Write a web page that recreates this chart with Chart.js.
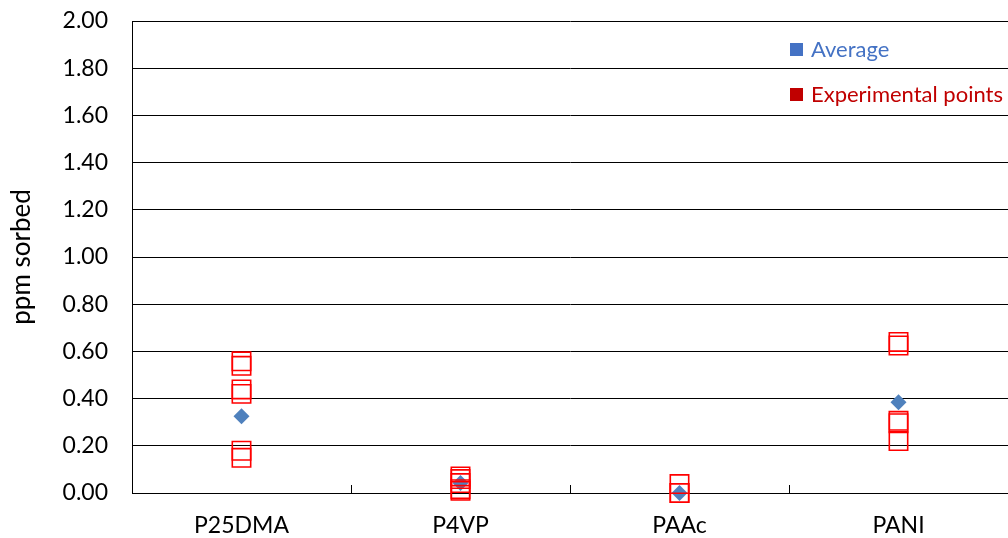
<!DOCTYPE html>
<html>
<head>
<meta charset="utf-8">
<script src="https://cdn.jsdelivr.net/npm/chart.js@4/dist/chart.umd.min.js"></script>
<style>
  html, body { margin: 0; padding: 0; background: #fff; }
  #wrap { width: 1008px; height: 538px; position: relative; }
</style>
</head>
<body>
<div id="wrap"><canvas id="c"></canvas></div>
<script>
// Sorbents on the category axis
const categories = ['P25DMA', 'P4VP', 'PAAc', 'PANI'];

// Mean sorbed amount per sorbent (ppm)
const averageValues = [0.325, 0.042, 0.0, 0.385];

// Individual replicate measurements per sorbent (ppm)
const p25dmaPoints = [0.558, 0.539, 0.439, 0.420, 0.179, 0.149];
const p4vpPoints = [0.070, 0.059, 0.042, 0.016, 0.009];
const paacPoints = [0.038, 0.0, 0.0];
const paniPoints = [0.640, 0.625, 0.306, 0.296, 0.220];

// Value axis ticks
const yTicks = [0, 0.2, 0.4, 0.6, 0.8, 1.0, 1.2, 1.4, 1.6, 1.8, 2.0];

const seriesNames = ['Average', 'Experimental points'];
const legendColors = ['#4472C4', '#C00000'];

const pointGroups = [p25dmaPoints, p4vpPoints, paacPoints, paniPoints];
const experimentalData = [];
pointGroups.forEach((group, i) => {
  group.forEach(v => experimentalData.push({ x: categories[i], y: v }));
});

const FONT = 'Lato, "Liberation Sans", sans-serif';

// Legend drawn inside the plot area, top right
const innerLegend = {
  id: 'innerLegend',
  afterDraw(chart) {
    const ctx = chart.ctx;
    const area = chart.chartArea;
    const x0 = area.right - 218;
    const rows = [area.top + 28, area.top + 73];
    ctx.save();
    ctx.font = '22px ' + FONT;
    ctx.textBaseline = 'middle';
    ctx.textAlign = 'left';
    seriesNames.forEach((name, i) => {
      ctx.fillStyle = legendColors[i];
      ctx.fillRect(x0, rows[i] - 6, 13, 13);
      ctx.fillText(name, x0 + 21, rows[i] + 1);
    });
    ctx.restore();
  }
};

new Chart(document.getElementById('c'), {
  type: 'line',
  data: {
    labels: categories,
    datasets: [
      {
        label: seriesNames[0],
        data: averageValues,
        showLine: false,
        pointStyle: 'rectRot',
        pointRadius: 8,
        pointHoverRadius: 8,
        pointBackgroundColor: '#4F81BD',
        pointBorderColor: '#4F81BD',
        pointBorderWidth: 0,
        clip: false,
        order: 1
      },
      {
        label: seriesNames[1],
        data: experimentalData,
        showLine: false,
        pointStyle: 'rect',
        pointRadius: 13,
        pointHoverRadius: 13,
        pointBackgroundColor: 'rgba(0,0,0,0)',
        pointBorderColor: '#FF0000',
        pointBorderWidth: 1.6,
        clip: false,
        order: 0
      }
    ]
  },
  options: {
    responsive: true,
    maintainAspectRatio: false,
    animation: false,
    events: [],
    layout: { autoPadding: false, padding: { top: 21, right: 0, bottom: 0, left: 0 } },
    plugins: {
      legend: { display: false },
      tooltip: { enabled: false }
    },
    scales: {
      x: {
        type: 'category',
        offset: true,
        grid: {
          offset: true,
          drawOnChartArea: false,
          drawTicks: true,
          tickLength: -8,
          lineWidth: 1,
          color: (c) => (c.index === undefined ? 'rgba(0,0,0,0)' : '#000')
        },
        border: { display: true, color: '#000', width: 1 },
        ticks: {
          color: '#000',
          padding: 27,
          maxRotation: 0,
          font: { family: FONT, size: 23 }
        },
        afterFit(scale) { scale.height = 45; }
      },
      y: {
        min: 0,
        max: 2,
        afterBuildTicks(scale) {
          scale.ticks = yTicks.map(v => ({ value: v }));
        },
        grid: {
          color: '#000',
          lineWidth: 1,
          drawTicks: false
        },
        border: { display: true, color: '#000', width: 1 },
        ticks: {
          color: '#000',
          padding: 24,
          font: { family: FONT, size: 23 },
          callback: (v) => Number(v).toFixed(2)
        },
        title: {
          display: true,
          text: 'ppm sorbed',
          color: '#000',
          font: { family: FONT, size: 26 },
          padding: { top: 6, bottom: 0 }
        },
        afterFit(scale) {
          scale.width = 132;
          scale.paddingTop = 0;
          scale.paddingBottom = 0;
        }
      }
    }
  },
  plugins: [innerLegend]
});
</script>
</body>
</html>
